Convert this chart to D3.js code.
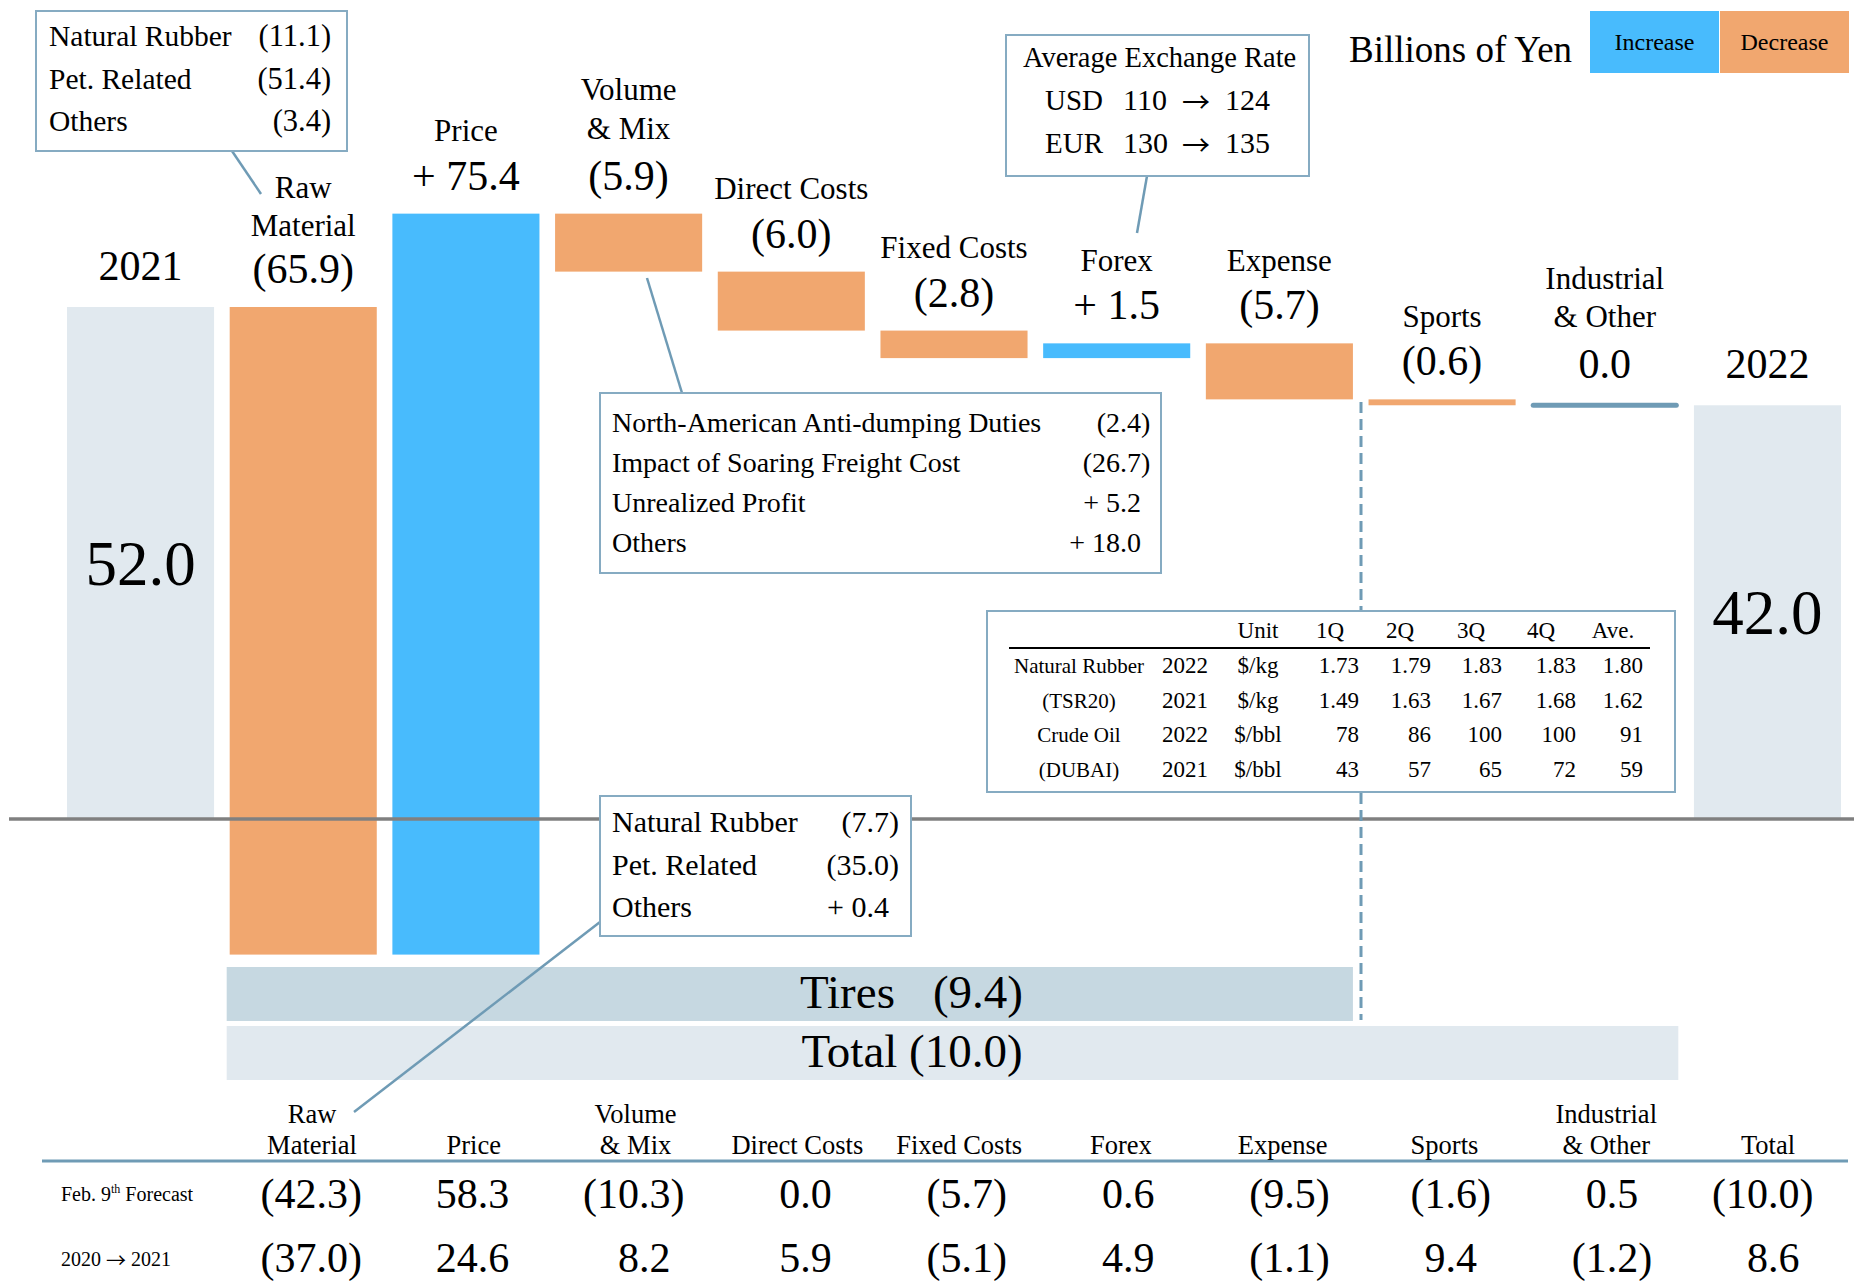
<!DOCTYPE html>
<html>
<head>
<meta charset="utf-8">
<script src="https://cdn.jsdelivr.net/npm/d3@7"></script>
<style>
  html, body { margin: 0; padding: 0; background: #ffffff; }
  svg { display: block; }
  text { font-family: "Liberation Serif", "Times New Roman", serif; fill: #000; }
  .arrow { font-family: "Noto Sans CJK JP", "DejaVu Sans", sans-serif; }
</style>
</head>
<body>
<svg id="chart" width="1854" height="1285"></svg>
<script>
// ---- Operating profit bridge 2021 -> 2022 (billions of yen) ----
const categories = ["2021", "Raw Material", "Price", "Volume & Mix", "Direct Costs",
  "Fixed Costs", "Forex", "Expense", "Sports", "Industrial & Other", "2022"];
const categoryLines = [["2021"], ["Raw", "Material"], ["Price"], ["Volume", "& Mix"],
  ["Direct Costs"], ["Fixed Costs"], ["Forex"], ["Expense"], ["Sports"],
  ["Industrial", "& Other"], ["2022"]];
const changes = [52.0, -65.9, 75.4, -5.9, -6.0, -2.8, 1.5, -5.7, -0.6, 0.0, 42.0];
const isTotal = [true, false, false, false, false, false, false, false, false, false, true];

// Segment summary bands under the bridge
const segmentNames = ["Tires", "Total"];
const segmentValues = [-9.4, -10.0];
const segmentFrom = ["Raw Material", "Raw Material"];
const segmentTo = ["Expense", "Industrial & Other"];

// Breakdown call-outs
const rawItems = ["Natural Rubber", "Pet. Related", "Others"];
const rawActual = [-11.1, -51.4, -3.4];
const rawForecast = [-7.7, -35.0, 0.4];
const volumeItems = ["North-American Anti-dumping Duties", "Impact of Soaring Freight Cost",
  "Unrealized Profit", "Others"];
const volumeValues = [-2.4, -26.7, 5.2, 18.0];
const fxCurrencies = ["USD", "EUR"];
const fxFrom = [110, 130];
const fxTo = [124, 135];

// Market price table
const marketHeader = ["Unit", "1Q", "2Q", "3Q", "4Q", "Ave."];
const marketItems = ["Natural Rubber", "(TSR20)", "Crude Oil", "(DUBAI)"];
const marketYears = ["2022", "2021", "2022", "2021"];
const marketUnits = ["$/kg", "$/kg", "$/bbl", "$/bbl"];
const rubber2022 = [1.73, 1.79, 1.83, 1.83, 1.80];
const rubber2021 = [1.49, 1.63, 1.67, 1.68, 1.62];
const crude2022 = [78, 86, 100, 100, 91];
const crude2021 = [43, 57, 65, 72, 59];

// Comparison table under the chart
const compareHeaders = [["Raw", "Material"], ["Price"], ["Volume", "& Mix"], ["Direct Costs"],
  ["Fixed Costs"], ["Forex"], ["Expense"], ["Sports"], ["Industrial", "& Other"], ["Total"]];
const forecastRow = [-42.3, 58.3, -10.3, 0.0, -5.7, 0.6, -9.5, -1.6, 0.5, -10.0];
const priorYearRow = [-37.0, 24.6, 8.2, 5.9, -5.1, 4.9, -1.1, 9.4, -1.2, 8.6];

// ---- styles ----
const BLUE = "#48bbfd", ORANGE = "#f1a76f", PALE = "#e1e9ef", TIRES = "#c6d8e1";
const SLATE = "#6f9bb5", BOXLINE = "#86abc2", AXIS = "#808080";

const svg = d3.select("#chart");

const x = d3.scaleBand().domain(categories).range([67, 1841]).paddingInner(0.096).paddingOuter(0);
const bw = x.bandwidth();
const cx = c => x(c) + bw / 2;
const y = d3.scaleLinear().domain([0, 52]).range([818, 307]);

// waterfall spans
let running = 0;
const bars = categories.map((c, i) => {
  let a, b;
  if (isTotal[i]) { a = 0; b = changes[i]; running = changes[i]; }
  else { a = running; b = running + changes[i]; running = b; }
  return { cat: c, i, v: changes[i], lo: Math.min(a, b), hi: Math.max(a, b), total: isTotal[i] };
});

const fmtDelta = v => v < 0 ? `(${Math.abs(v).toFixed(1)})` : v > 0 ? `+ ${v.toFixed(1)}` : v.toFixed(1);
const fmtPlain = v => v < 0 ? `(${Math.abs(v).toFixed(1)})` : v.toFixed(1);

function label(g, px, py, s, size, anchor = "middle") {
  return g.append("text").attr("x", px).attr("y", py).attr("font-size", size)
    .attr("text-anchor", anchor).text(s);
}
// numbers aligned on digits, closing parenthesis hanging past the edge
function num(g, right, py, s, size) {
  const hang = s.endsWith(")") ? 0.333 * size : 0;
  return label(g, right + hang, py, s, size, "end");
}

// ---- segment bands ----
const bandsG = svg.append("g");
segmentNames.forEach((n, k) => {
  const x0 = x(segmentFrom[k]) - 3, x1 = x(segmentTo[k]) + bw;
  const top = 967 + k * 59;
  bandsG.append("rect").attr("x", x0).attr("y", top).attr("width", x1 - x0).attr("height", 54)
    .attr("fill", k === 0 ? TIRES : PALE);
});
const bandTextX = 912;
label(bandsG, bandTextX - 112, 1008, segmentNames[0], 47, "start");
label(bandsG, bandTextX + 111, 1008, fmtPlain(segmentValues[0]), 47, "end");
label(bandsG, bandTextX, 1067, `${segmentNames[1]} ${fmtPlain(segmentValues[1])}`, 47);

// ---- total bars (behind the axis line) ----
const barG = svg.append("g");
bars.filter(d => d.total).forEach(d => {
  barG.append("rect").attr("x", x(d.cat)).attr("y", y(d.hi)).attr("width", bw)
    .attr("height", y(d.lo) - y(d.hi)).attr("fill", PALE);
  label(barG, cx(d.cat), (y(d.hi) + y(d.lo)) / 2 + 22, d.v.toFixed(1), 63);
});

// zero line
svg.append("line").attr("x1", 9).attr("x2", 1854).attr("y1", y(0) + 1).attr("y2", y(0) + 1)
  .attr("stroke", AXIS).attr("stroke-width", 3.5);

// divider between Tires and other segments
svg.append("line").attr("x1", 1361).attr("x2", 1361).attr("y1", 402).attr("y2", 1020)
  .attr("stroke", SLATE).attr("stroke-width", 3).attr("stroke-dasharray", "11,6");

// ---- change bars ----
bars.filter(d => !d.total).forEach(d => {
  if (d.v === 0) {
    barG.append("line").attr("x1", x(d.cat) + 2).attr("x2", x(d.cat) + bw - 2)
      .attr("y1", y(d.hi)).attr("y2", y(d.hi))
      .attr("stroke", SLATE).attr("stroke-width", 5).attr("stroke-linecap", "round");
  } else {
    barG.append("rect").attr("x", x(d.cat)).attr("y", y(d.hi)).attr("width", bw)
      .attr("height", y(d.lo) - y(d.hi)).attr("fill", d.v > 0 ? BLUE : ORANGE);
  }
});

// ---- category and value labels ----
const labG = svg.append("g");
bars.forEach(d => {
  const base = y(d.hi) - (d.total || d.v === 0 ? 27 : 24);
  const c = cx(d.cat);
  if (d.total) { label(labG, c, base, d.cat, 42); return; }
  label(labG, c, base, fmtDelta(d.v), 42);
  const lines = categoryLines[d.i];
  const gap = lines.length > 1 ? 51 : 48.5;
  // the raw material caption sits a little lower, close to its value
  const lift = d.cat === "Raw Material" ? -4 : 0;
  lines.forEach((ln, j) => {
    label(labG, c, base - gap - lift - (lines.length - 1 - j) * 38.5, ln, 31);
  });
});

// ---- call-out boxes ----
function box(x0, y0, x1, y1) {
  svg.append("rect").attr("x", x0).attr("y", y0).attr("width", x1 - x0).attr("height", y1 - y0)
    .attr("fill", "#fff").attr("stroke", BOXLINE).attr("stroke-width", 2);
}
function connector(x1, y1, x2, y2) {
  svg.append("line").attr("x1", x1).attr("y1", y1).attr("x2", x2).attr("y2", y2)
    .attr("stroke", SLATE).attr("stroke-width", 2.5);
}

// raw material breakdown (actual)
connector(232, 151, 261, 194);
box(36, 11, 347, 151);
rawItems.forEach((n, k) => {
  label(svg, 49, 46 + k * 42.5, n, 29.5, "start");
  num(svg, 321, 46 + k * 42.5, fmtDelta(rawActual[k]), 30.5);
});

// volume & mix breakdown
connector(647, 278, 682, 393);
box(600, 393, 1161, 573);
volumeItems.forEach((n, k) => {
  label(svg, 612, 432 + k * 40, n, 28, "start");
  num(svg, 1141, 432 + k * 40, fmtDelta(volumeValues[k]), 28);
});

// exchange rates
connector(1147, 176, 1137, 233);
box(1006, 35, 1309, 176);
label(svg, 1023, 67, "Average Exchange Rate", 28.5, "start");
fxCurrencies.forEach((c, k) => {
  const by = 110 + k * 43;
  label(svg, 1045, by, c, 29, "start");
  label(svg, 1123, by, String(fxFrom[k]), 30, "start");
  label(svg, 1196, by + 3, "→", 28).attr("class", "arrow");
  label(svg, 1225, by, String(fxTo[k]), 30, "start");
});

// unit + legend
label(svg, 1349, 62, "Billions of Yen", 37, "start");
svg.append("rect").attr("x", 1590).attr("y", 11).attr("width", 129).attr("height", 62).attr("fill", BLUE);
svg.append("rect").attr("x", 1720).attr("y", 11).attr("width", 129).attr("height", 62).attr("fill", ORANGE);
label(svg, 1654.5, 50, "Increase", 24);
label(svg, 1784.5, 50, "Decrease", 24);

// market price table
box(987, 611, 1675, 792);
svg.append("line").attr("x1", 1009).attr("x2", 1650).attr("y1", 648).attr("y2", 648)
  .attr("stroke", "#000").attr("stroke-width", 2);
const headX = [1258, 1330, 1400, 1471, 1541, 1613];
marketHeader.forEach((h, k) => label(svg, headX[k], 638, h, 23));
const valRight = [1359, 1431, 1502, 1576, 1643];
const marketRows = [rubber2022, rubber2021, crude2022, crude2021];
marketRows.forEach((row, r) => {
  const by = 673 + r * 34.7;
  label(svg, 1079, by, marketItems[r], 21);
  label(svg, 1185, by, marketYears[r], 23);
  label(svg, headX[0], by, marketUnits[r], 23);
  row.forEach((v, k) => label(svg, valRight[k], by, r < 2 ? v.toFixed(2) : String(v), 23, "end"));
});

// ---- comparison table ----
const compareCats = categories.slice(1);
const tx = d3.scalePoint().domain(compareCats).range([312, 1768]);
svg.append("line").attr("x1", 42).attr("x2", 1848).attr("y1", 1161).attr("y2", 1161)
  .attr("stroke", SLATE).attr("stroke-width", 3);
compareCats.forEach((c, k) => {
  const lines = compareHeaders[k];
  lines.forEach((ln, j) => label(svg, tx(c), 1154 - (lines.length - 1 - j) * 31, ln, 26.5));
  const right = tx(c) + 36 - k * 0.5;
  num(svg, right, 1208, fmtPlain(forecastRow[k]), 42);
  num(svg, right, 1272, fmtPlain(priorYearRow[k]), 42);
});
const f1 = label(svg, 61, 1201, "Feb. 9", 20, "start");
f1.append("tspan").attr("font-size", 12).attr("dy", -8).text("th");
f1.append("tspan").attr("dy", 8).text(" Forecast");
const f2 = label(svg, 61, 1266, "2020 ", 20, "start");
f2.append("tspan").attr("class", "arrow").attr("font-size", 20).attr("dy", 2).text("→");
f2.append("tspan").attr("dy", -2).text(" 2021");

// raw material breakdown (forecast), drawn last so its leader crosses the bands
connector(600, 922, 354, 1112);
box(600, 796, 911, 936);
rawItems.forEach((n, k) => {
  label(svg, 612, 832 + k * 42.5, n, 30, "start");
  num(svg, 889, 832 + k * 42.5, fmtDelta(rawForecast[k]), 30);
});
</script>
</body>
</html>
